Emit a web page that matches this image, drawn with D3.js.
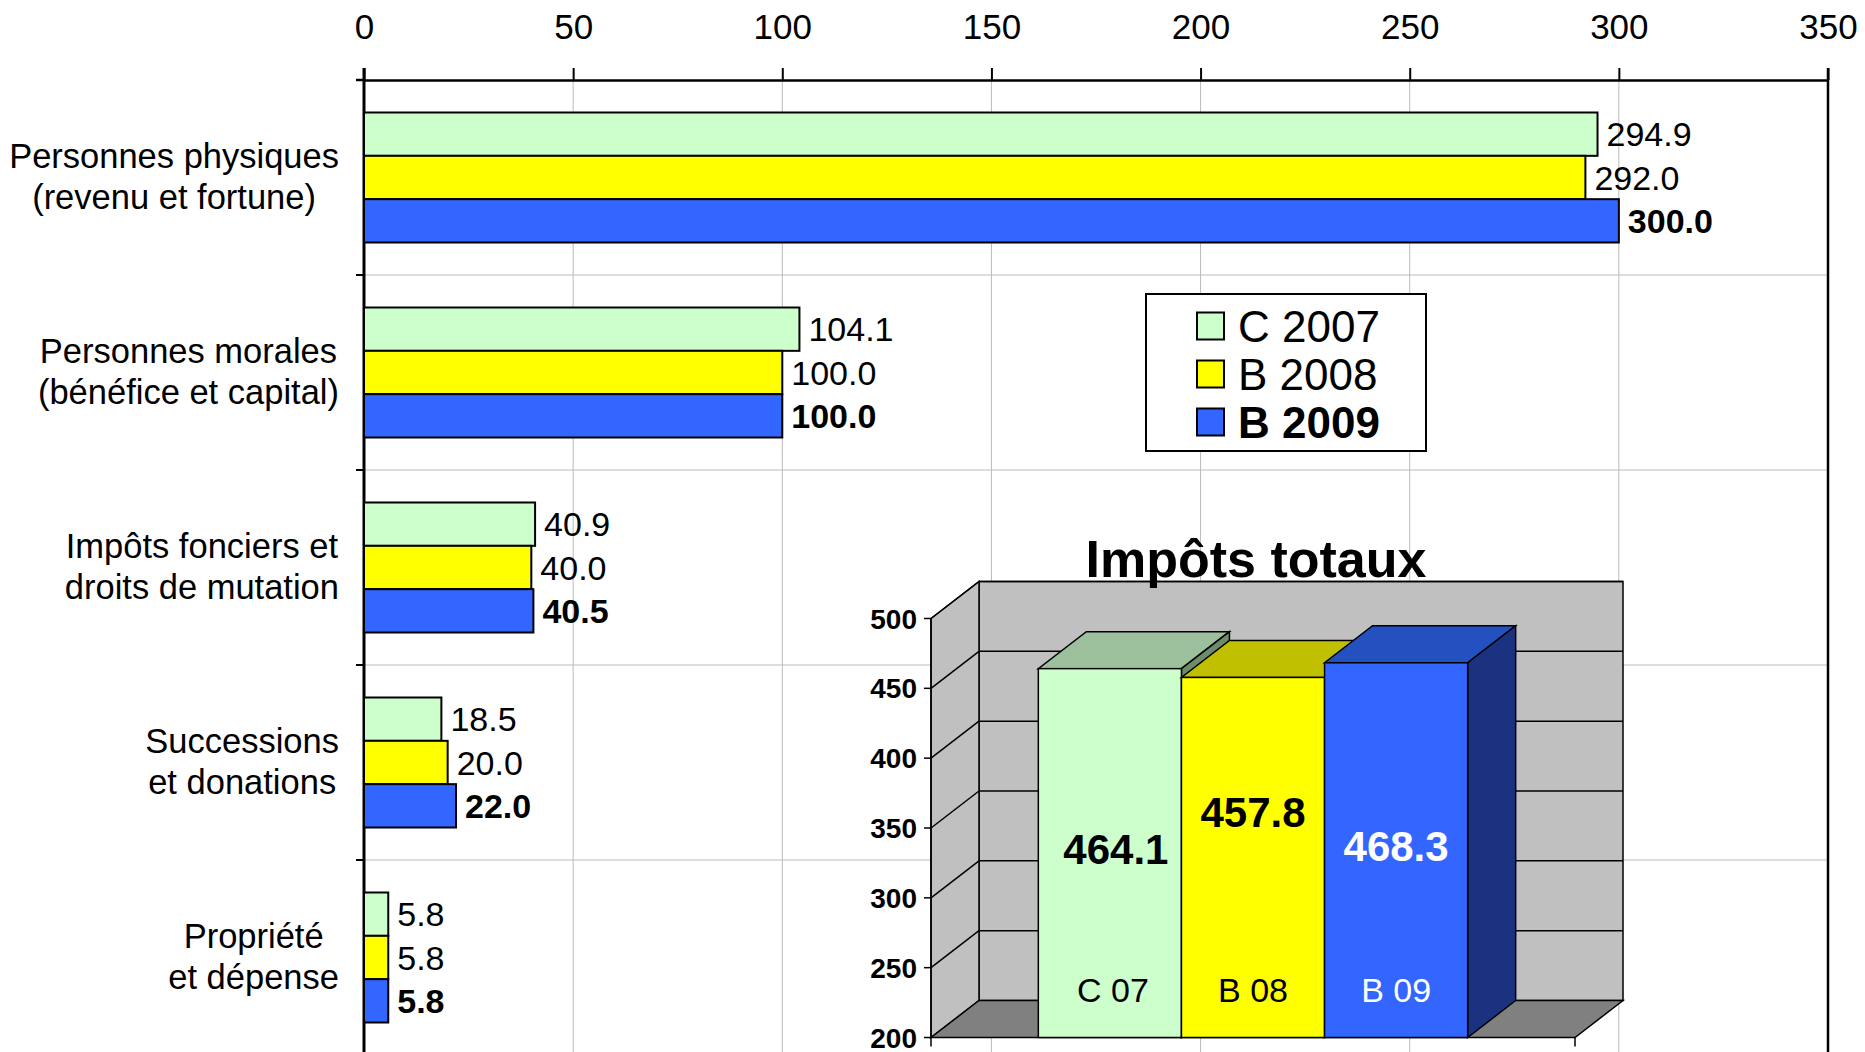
<!DOCTYPE html>
<html>
<head>
<meta charset="utf-8">
<title>Impôts</title>
<script src="https://cdn.jsdelivr.net/npm/d3@7"></script>
<style>
  body { margin: 0; background: #fff; }
  svg text { font-family: "Liberation Sans", Arial, sans-serif; fill: #000; }
</style>
</head>
<body>
<div id="chart"></div>
<script>
// categories, two text lines each
var categories = [
  ["Personnes physiques", "(revenu et fortune)"],
  ["Personnes morales", "(bénéfice et capital)"],
  ["Impôts fonciers et", "droits de mutation"],
  ["Successions", "et donations"],
  ["Propriété", "et dépense"]
];
var seriesNames = ["C 2007", "B 2008", "B 2009"];
var c2007 = [294.9, 104.1, 40.9, 18.5, 5.8];
var b2008 = [292.0, 100.0, 40.0, 20.0, 5.8];
var b2009 = [300.0, 100.0, 40.5, 22.0, 5.8];
var xTicks = [0, 50, 100, 150, 200, 250, 300, 350];

// inset: total taxes
var totalLabels = ["C 07", "B 08", "B 09"];
var totalValues = [464.1, 457.8, 468.3];
var totalTicks = [200, 250, 300, 350, 400, 450, 500];

var fills = ["#CCFFCC", "#FFFF00", "#3366FF"];
var topFills = ["#9CC09C", "#C0C000", "#2450C0"];
var sideFills = ["#6C8C6C", "#8A8A00", "#1A3280"];

var W = 1865, H = 1052;
var svg = d3.select("#chart").append("svg").attr("width", W).attr("height", H);

var x = d3.scaleLinear().domain([0, 350]).range([364, 1828]);
var y = d3.scaleBand().domain(d3.range(categories.length)).range([80, 1055])
          .paddingInner(1 / 3).paddingOuter(1 / 6);
var ySub = d3.scaleBand().domain(d3.range(seriesNames.length)).range([0, y.bandwidth()]);

// gridlines
var grid = svg.append("g");
grid.selectAll("line.v").data(xTicks.slice(1, -1)).enter().append("line")
    .attr("x1", function(d) { return x(d); }).attr("x2", function(d) { return x(d); })
    .attr("y1", 80).attr("y2", H)
    .attr("stroke", "#BBBBBB").attr("stroke-width", 1);
var bounds = d3.range(1, categories.length).map(function(i) { return y(i) - y.step() * y.paddingInner() / 2; });
grid.selectAll("line.h").data(bounds).enter().append("line")
    .attr("x1", x(0)).attr("x2", x(350))
    .attr("y1", function(d) { return d; }).attr("y2", function(d) { return d; })
    .attr("stroke", "#BBBBBB").attr("stroke-width", 1);

// top axis
var axis = svg.append("g").attr("transform", "translate(0,80)")
    .call(d3.axisTop(x).tickValues(xTicks).tickSize(12).tickPadding(29).tickSizeOuter(0));
axis.select(".domain").attr("stroke", "#000").attr("stroke-width", 2.5);
axis.selectAll(".tick line").attr("stroke", "#000").attr("stroke-width", 2);
axis.selectAll(".tick text").style("font-size", "35px").attr("fill", "#000")
    .style("font-family", "'Liberation Sans', Arial, sans-serif");
svg.append("line").attr("x1", 356).attr("x2", x(0)).attr("y1", 80).attr("y2", 80)
    .attr("stroke", "#000").attr("stroke-width", 2.5);

// left axis and right border
svg.append("line").attr("x1", x(0)).attr("x2", x(0)).attr("y1", 68).attr("y2", H)
    .attr("stroke", "#000").attr("stroke-width", 3);
svg.append("line").attr("x1", x(350)).attr("x2", x(350)).attr("y1", 68).attr("y2", H)
    .attr("stroke", "#000").attr("stroke-width", 2.5);
svg.selectAll("line.ltick").data(bounds).enter().append("line")
    .attr("x1", 356).attr("x2", x(0))
    .attr("y1", function(d) { return d; }).attr("y2", function(d) { return d; })
    .attr("stroke", "#000").attr("stroke-width", 2);

// bars
var series = [c2007, b2008, b2009];
series.forEach(function(vals, s) {
  var g = svg.append("g");
  g.selectAll("rect").data(vals).enter().append("rect")
      .attr("x", x(0))
      .attr("y", function(d, i) { return y(i) + ySub(s); })
      .attr("width", function(d) { return x(d) - x(0); })
      .attr("height", ySub.bandwidth())
      .attr("fill", fills[s]).attr("stroke", "#000").attr("stroke-width", 2);
  g.selectAll("text").data(vals).enter().append("text")
      .attr("x", function(d) { return x(d) + 9; })
      .attr("y", function(d, i) { return y(i) + ySub(s) + ySub.bandwidth() / 2 + 12; })
      .style("font-size", "34px")
      .style("font-weight", s === 2 ? "bold" : "normal")
      .text(function(d) { return d.toFixed(1); });
});

// category labels: block right-aligned, lines centred in block
categories.forEach(function(lines, i) {
  var c = y(i) + y.bandwidth() / 2;
  var g = svg.append("g");
  var t = g.selectAll("text").data(lines).enter().append("text")
      .attr("y", function(d, k) { return c + (k === 0 ? -22 : 19) + 12; })
      .attr("text-anchor", "middle")
      .style("font-size", "34.5px")
      .text(function(d) { return d; });
  var maxW = 0;
  t.each(function() { maxW = Math.max(maxW, this.getComputedTextLength()); });
  t.attr("x", 339 - maxW / 2);
});

// legend
var lg = svg.append("g");
lg.append("rect").attr("x", 1146).attr("y", 294).attr("width", 280).attr("height", 157)
    .attr("fill", "#fff").attr("stroke", "#000").attr("stroke-width", 2);
seriesNames.forEach(function(n, i) {
  var cy = 325.5 + i * 48;
  lg.append("rect").attr("x", 1197).attr("y", cy - 13).attr("width", 27).attr("height", 27)
      .attr("fill", fills[i]).attr("stroke", "#000").attr("stroke-width", 2);
  lg.append("text").attr("x", 1238).attr("y", cy + 16)
      .style("font-size", "44px").style("font-weight", i === 2 ? "bold" : "normal")
      .text(n);
});

// ---- 3D inset: Impôts totaux ----
var DX = 48, DY = -37;
var ins = svg.append("g");
var y3 = d3.scaleLinear().domain([200, 500]).range([1037.5, 618.5]);
var x3 = d3.scaleBand().domain(totalLabels).range([931, 1575]).paddingInner(0).paddingOuter(0.75);
var L = 931, R = 1575, T = y3(500), B = y3(200);
function poly(pts) { return pts.map(function(p) { return p.join(","); }).join(" "); }

ins.append("polygon").attr("points", poly([[L + DX, T + DY], [R + DX, T + DY], [R + DX, B + DY], [L + DX, B + DY]]))
    .attr("fill", "#C0C0C0").attr("stroke", "#000").attr("stroke-width", 1.5);
ins.append("polygon").attr("points", poly([[L, T], [L + DX, T + DY], [L + DX, B + DY], [L, B]]))
    .attr("fill", "#C0C0C0").attr("stroke", "#000").attr("stroke-width", 1.5);
ins.append("polygon").attr("points", poly([[L, B], [R, B], [R + DX, B + DY], [L + DX, B + DY]]))
    .attr("fill", "#808080").attr("stroke", "#000").attr("stroke-width", 1.5);

totalTicks.slice(1).forEach(function(t) {
  ins.append("line").attr("x1", L + DX).attr("x2", R + DX)
      .attr("y1", y3(t) + DY).attr("y2", y3(t) + DY).attr("stroke", "#000").attr("stroke-width", 1.5);
  ins.append("line").attr("x1", L).attr("x2", L + DX)
      .attr("y1", y3(t)).attr("y2", y3(t) + DY).attr("stroke", "#000").attr("stroke-width", 1.5);
});

// axis ticks + labels
totalTicks.forEach(function(t) {
  ins.append("line").attr("x1", L - 7).attr("x2", L).attr("y1", y3(t)).attr("y2", y3(t))
      .attr("stroke", "#000").attr("stroke-width", 1.5);
  ins.append("text").attr("x", 917).attr("y", y3(t) + 10).attr("text-anchor", "end")
      .style("font-size", "28px").style("font-weight", "bold").text(t);
});
ins.append("line").attr("x1", L).attr("x2", L).attr("y1", T).attr("y2", B).attr("stroke", "#000").attr("stroke-width", 1.5);
[L, R].forEach(function(px) {
  ins.append("line").attr("x1", px).attr("x2", px).attr("y1", B).attr("y2", B + 9)
      .attr("stroke", "#000").attr("stroke-width", 1.5);
});

// bars
totalValues.forEach(function(v, i) {
  var x0 = x3(totalLabels[i]), x1 = x0 + x3.bandwidth(), yt = y3(v), yb = B;
  ins.append("polygon").attr("points", poly([[x0, yt], [x1, yt], [x1 + DX, yt + DY], [x0 + DX, yt + DY]]))
      .attr("fill", topFills[i]).attr("stroke", "#000").attr("stroke-width", 1.5);
  ins.append("polygon").attr("points", poly([[x1, yt], [x1 + DX, yt + DY], [x1 + DX, yb + DY], [x1, yb]]))
      .attr("fill", sideFills[i]).attr("stroke", "#000").attr("stroke-width", 1.5);
  ins.append("rect").attr("x", x0).attr("y", yt).attr("width", x1 - x0).attr("height", yb - yt)
      .attr("fill", fills[i]).attr("stroke", "#000").attr("stroke-width", 1.5);
});
totalValues.forEach(function(v, i) {
  var cx = x3(totalLabels[i]) + x3.bandwidth() / 2;
  var cy = (y3(v) + B) / 2 + (i === 1 ? -45 : -4);
  ins.append("text").attr("x", cx + (i === 0 ? 6 : 0)).attr("y", cy + 15).attr("text-anchor", "middle")
      .style("font-size", "42px").style("font-weight", "bold")
      .style("fill", i === 2 ? "#fff" : "#000").text(v.toFixed(1));
  ins.append("text").attr("x", cx + (i === 0 ? 3 : 0)).attr("y", 1002).attr("text-anchor", "middle")
      .style("font-size", "34px").style("fill", i === 2 ? "#fff" : "#000").text(totalLabels[i]);
});

ins.append("text").attr("x", 1256).attr("y", 577).attr("text-anchor", "middle")
    .style("font-size", "52px").style("font-weight", "bold").text("Impôts totaux");
</script>
</body>
</html>
